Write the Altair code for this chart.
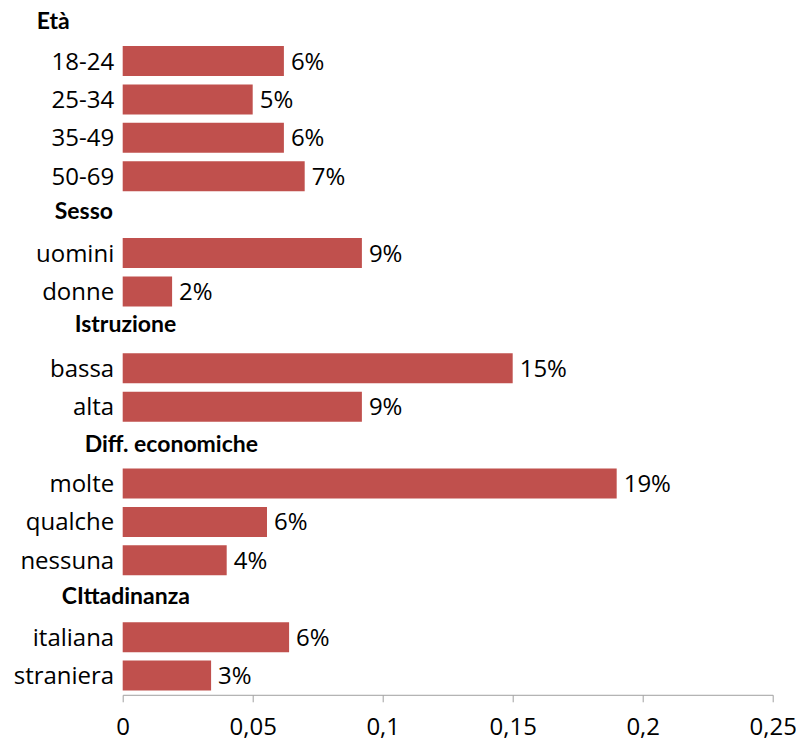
import json
import altair as alt
import pandas as pd

# ---- data ----
labels = ["18-24", "25-34", "35-49", "50-69",
          "Sesso", "uomini", "donne",
          "Istruzione", "bassa", "alta",
          "Diff. economiche", "molte", "qualche", "nessuna",
          "CIttadinanza", "italiana", "straniera"]
values = [0.062, 0.050, 0.062, 0.070,
          None, 0.092, 0.019,
          None, 0.150, 0.092,
          None, 0.190, 0.0555, 0.040,
          None, 0.064, 0.034]
headers = ["Sesso", "Istruzione", "Diff. economiche", "CIttadinanza"]
first_header = "Età"
x_ticks = [0, 0.05, 0.1, 0.15, 0.2, 0.25]

df = pd.DataFrame({"label": labels, "value": values})
df_first = pd.DataFrame({"label": [first_header]})

# ---- style ----
FONT = "Open Sans"
FS = 24
HFONT = "Lato"
HFS = 23
BAR = "#C0504D"
AXIS_GRAY = "#A0A0A0"
header_offsets = {  # (dx, dy) in pixels from plot left edge / band centre
    "Sesso": (-68, -3),
    "Istruzione": (-48, -5),
    "Diff. economiche": (-38, 0),
    "CIttadinanza": (-61, -2),
}

hdr_js = json.dumps(headers)

y_enc = alt.Y(
    "label:N",
    sort=labels,
    scale=alt.Scale(domain=labels, paddingInner=0.22, paddingOuter=0.11),
    axis=alt.Axis(
        title=None, domain=False, ticks=False, labelPadding=9, labelOffset=1.5,
        labelFont=FONT, labelFontSize=FS, labelColor="black",
        labelExpr=f"indexof({hdr_js}, datum.value) >= 0 ? '' : datum.label",
    ),
)

x_enc = alt.X(
    "value:Q",
    scale=alt.Scale(domain=[0, 0.25], nice=False, zero=True),
    axis=alt.Axis(
        title=None, grid=False, values=x_ticks, labelFlush=False,
        domainColor=AXIS_GRAY, tickColor=AXIS_GRAY, tickSize=7,
        labelFont=FONT, labelFontSize=FS, labelColor="black", labelPadding=14,
        labelExpr="replace(format(datum.value, ''), '.', ',')",
    ),
)

base = alt.Chart(df)

bars = base.transform_filter("datum.value != null").mark_bar(color=BAR).encode(
    x=x_enc, y=y_enc
)

vals = base.transform_filter("datum.value != null").mark_text(
    align="left", baseline="middle", dx=7, dy=1.5, font=FONT, fontSize=FS,
    color="black"
).encode(
    x="value:Q", y=alt.Y("label:N", sort=labels),
    text=alt.Text("value:Q", format=".0%"),
)

layers = [bars, vals]
for h in headers:
    dx, dy = header_offsets[h]
    layers.append(
        base.transform_filter(alt.datum.label == h).mark_text(
            align="left", baseline="middle", dx=dx, dy=dy,
            font=HFONT, fontSize=HFS, fontWeight="bold", color="black"
        ).encode(x=alt.value(0), y=alt.Y("label:N", sort=labels), text="label:N")
    )

first = alt.Chart(df_first).mark_text(
    align="left", baseline="middle", dx=-86,
    font=HFONT, fontSize=HFS, fontWeight="bold", color="black"
).encode(x=alt.value(0), y=alt.value(-20), text="label:N")
layers.append(first)

chart = alt.layer(*layers).properties(
    width=650,
    height=653,
    autosize=alt.AutoSizeParams(type="none"),
    padding={"left": 114.7, "top": 33.8, "right": 23, "bottom": 46},
).configure_view(stroke=None)

chart.save("out.html", embed_options={"renderer": "svg", "actions": False})
